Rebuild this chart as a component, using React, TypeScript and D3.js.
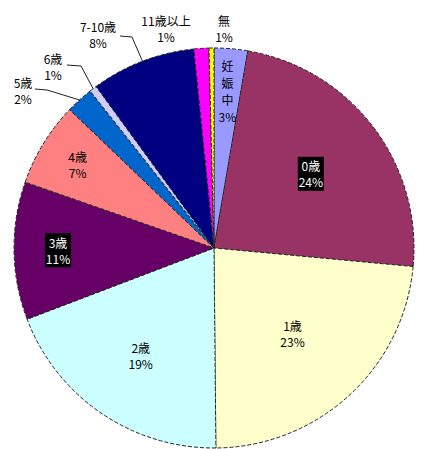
import React from 'react';
import * as d3 from 'd3';

// age groups, clockwise from 12 o'clock
const categories = ['妊娠中', '0歳', '1歳', '2歳', '3歳', '4歳', '5歳', '6歳', '7-10歳', '11歳以上', '無'];
const shares = [2.7, 23.7, 23.3, 19.3, 11.1, 6.8, 2.2, 0.6, 8.4, 1.2, 0.4];
const pctLabels = ['3%', '24%', '23%', '19%', '11%', '7%', '2%', '1%', '8%', '1%', '1%'];
const colors = ['#9999FF', '#993366', '#FFFFCC', '#CCFFFF', '#660066', '#FF8080', '#0066CC', '#CCCCFF', '#000080', '#FF00FF', '#FFFF00'];

interface Slice {
    name: string;
    value: number;
    pct: string;
    color: string;
}

const width = 421;
const height = 449;
const cx = 214;
const cy = 248;
const radius = 200;
const font = '"Noto Sans CJK JP", "Noto Sans", sans-serif';

// label placement (fraction of radius) for labels drawn inside the slice
const insideRadius: Record<string, number> = {
    '妊娠中': 0.79, '0歳': 0.61, '1歳': 0.58, '2歳': 0.65, '3歳': 0.78, '4歳': 0.8,
};
const boxed = ['0歳', '3歳'];

// labels placed outside, with optional leader line start
const outside: Record<string, { x: number; y: number; lead?: [number, number][] }> = {
    '5歳': { x: 23, y: 82, lead: [[35, 89], [47, 90]] },
    '6歳': { x: 53, y: 58, lead: [[67, 65], [81, 66]] },
    '7-10歳': { x: 98, y: 26, lead: [[120, 36], [132, 37]] },
    '11歳以上': { x: 166, y: 20 },
    '無': { x: 224, y: 20 },
};

const App: React.FC = () => {
    const data: Slice[] = categories.map((name, i) => ({
        name, value: shares[i], pct: pctLabels[i], color: colors[i],
    }));

    const pie = d3.pie<Slice>().sort(null).value(d => d.value);
    const arc = d3.arc<d3.PieArcDatum<Slice>>().innerRadius(0).outerRadius(radius);
    const arcs = pie(data);

    const polar = (d: d3.PieArcDatum<Slice>, r: number): [number, number] => {
        const a = (d.startAngle + d.endAngle) / 2;
        return [r * Math.sin(a), -r * Math.cos(a)];
    };

    return (
        <svg width={width} height={height} style={{ position: 'absolute', left: 0, top: 0, background: '#fff' }}
            fontFamily={font} fontSize={12}>
            <g transform={`translate(${cx},${cy})`}>
                {arcs.map((d, i) => (
                    <path key={i} d={arc(d) || undefined} fill={d.data.color}
                        stroke="#222" strokeWidth={1} strokeDasharray="4 2" />
                ))}
            </g>
            {arcs.map((d, i) => {
                const name = d.data.name;
                if (insideRadius[name] === undefined) return null;
                const [px, py] = polar(d, insideRadius[name] * radius);
                const x = cx + px;
                const y = cy + py;
                if (name === '妊娠中') {
                    const lines = ['妊', '娠', '中', d.data.pct];
                    return (
                        <g key={i}>
                            {lines.map((t, j) => (
                                <text key={j} x={x} y={y - 25 + j * 17} textAnchor="middle"
                                    dominantBaseline="central" fill="#000">{t}</text>
                            ))}
                        </g>
                    );
                }
                const isBoxed = boxed.includes(name);
                return (
                    <g key={i}>
                        {isBoxed && <rect x={x - 13} y={y - 17} width={26} height={34} fill="#000" />}
                        <text x={x} y={y - 8} textAnchor="middle" dominantBaseline="central"
                            fill={isBoxed ? '#fff' : '#000'}>{name}</text>
                        <text x={x} y={y + 8} textAnchor="middle" dominantBaseline="central"
                            fill={isBoxed ? '#fff' : '#000'}>{d.data.pct}</text>
                    </g>
                );
            })}
            {arcs.map((d, i) => {
                const o = outside[d.data.name];
                if (!o) return null;
                const [ex, ey] = polar(d, radius);
                const pts = o.lead ? [...o.lead, [cx + ex, cy + ey]] : null;
                return (
                    <g key={i}>
                        {pts && (
                            <path d={d3.line()(pts as [number, number][]) || undefined} fill="none"
                                stroke="#222" strokeWidth={1} />
                        )}
                        <text x={o.x} y={o.y} textAnchor="middle" dominantBaseline="central" fill="#000">{d.data.name}</text>
                        <text x={o.x} y={o.y + 16} textAnchor="middle" dominantBaseline="central" fill="#000">{d.data.pct}</text>
                    </g>
                );
            })}
        </svg>
    );
};

export default App;
